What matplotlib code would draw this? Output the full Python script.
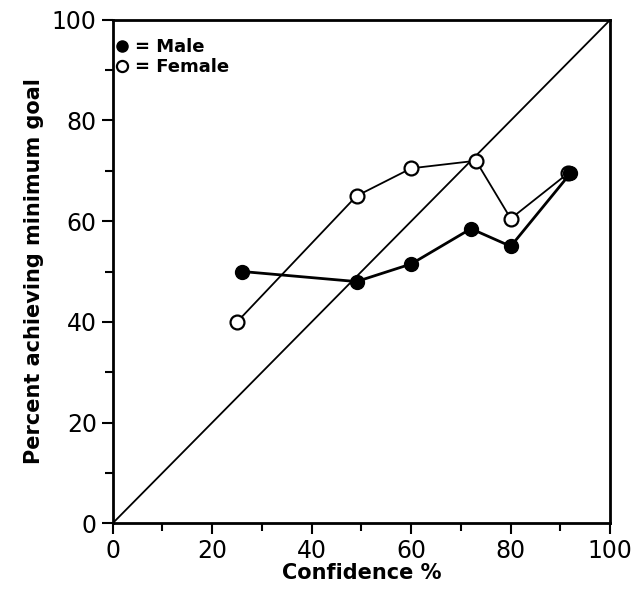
import matplotlib.pyplot as plt
from matplotlib.ticker import MultipleLocator

# Data
confidence_male = [26, 49, 60, 72, 80, 92]
pct_male = [50, 48, 51.5, 58.5, 55, 69.5]

confidence_female = [25, 49, 60, 73, 80, 91.5]
pct_female = [40, 65, 70.5, 72, 60.5, 69.5]

diag = [0, 100]

fig, ax = plt.subplots(figsize=(6.37, 6.0), dpi=100)
fig.subplots_adjust(left=0.177, right=0.958, bottom=0.128, top=0.967)

# reference line y = x
ax.plot(diag, diag, color='black', lw=1.3, zorder=1)

ax.plot(confidence_female, pct_female, color='black', lw=1.3, marker='o',
        markersize=10, markerfacecolor='white', markeredgecolor='black',
        markeredgewidth=1.6, label='= Female', zorder=2)
ax.plot(confidence_male, pct_male, color='black', lw=2, marker='o',
        markersize=10, markerfacecolor='black', markeredgecolor='black',
        label='= Male', zorder=3)

ax.set_xlim(0, 100)
ax.set_ylim(0, 100)
ax.xaxis.set_major_locator(MultipleLocator(20))
ax.yaxis.set_major_locator(MultipleLocator(20))
ax.xaxis.set_minor_locator(MultipleLocator(10))
ax.yaxis.set_minor_locator(MultipleLocator(10))
ax.tick_params(which='both', direction='out', width=1.5, labelsize=17)
ax.tick_params(which='major', length=8)
ax.tick_params(which='minor', length=6)
for sp in ax.spines.values():
    sp.set_linewidth(2)

ax.set_xlabel('Confidence %', fontsize=15, fontweight='bold', labelpad=0)
ax.set_ylabel('Percent achieving minimum goal', fontsize=15, fontweight='bold', labelpad=6)

# legend: male first, female second
handles, labels = ax.get_legend_handles_labels()
leg = ax.legend(handles[::-1], labels[::-1], loc='upper left', frameon=False,
                bbox_to_anchor=(0.008, 0.963), borderaxespad=0, borderpad=0,
                handlelength=0.6, handletextpad=0.4, labelspacing=0.1,
                prop={'weight': 'bold', 'size': 13}, markerscale=0.8)
for h in leg.legend_handles:
    h.set_linestyle('none')

fig.savefig('out.png', dpi=100)
